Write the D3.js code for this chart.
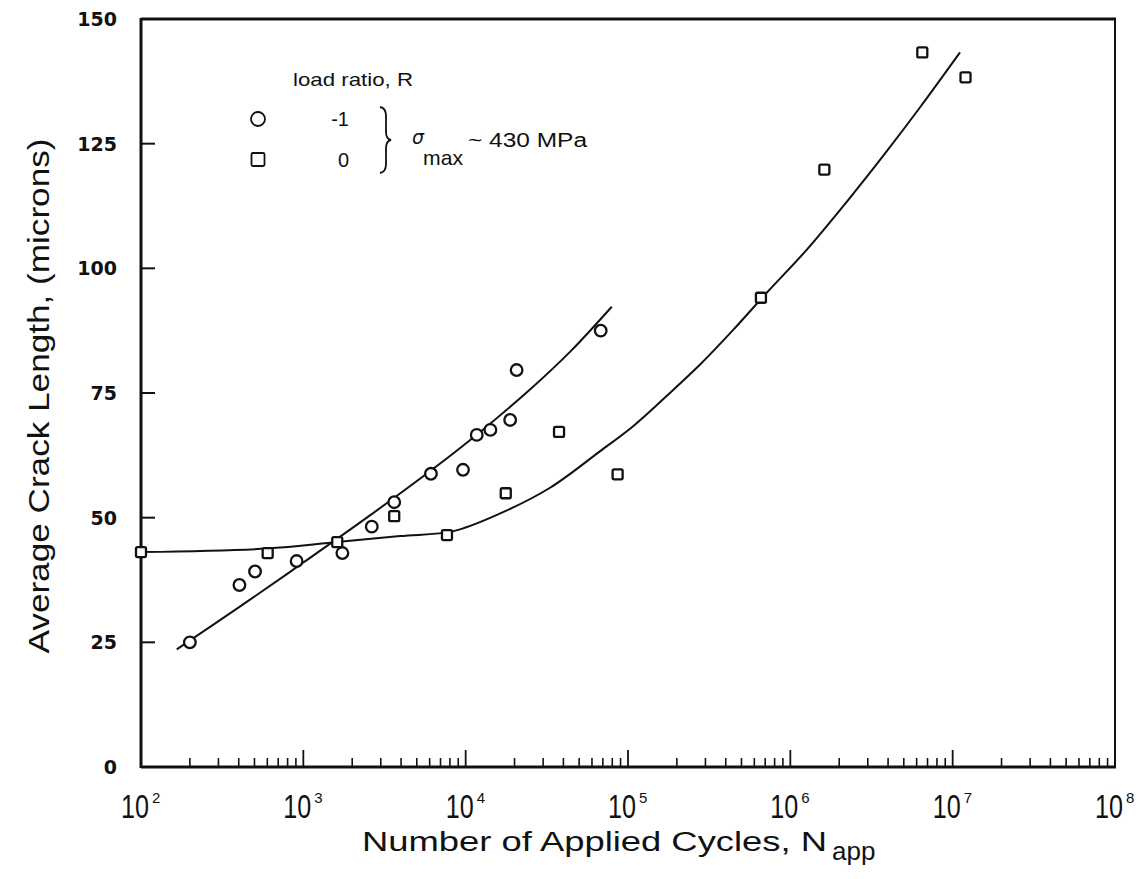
<!DOCTYPE html>
<html>
<head>
<meta charset="utf-8">
<script src="https://cdn.jsdelivr.net/npm/d3@7"></script>
<style>
  html, body { margin: 0; padding: 0; background: #fff; }
  svg { display: block; }
</style>
</head>
<body>
<svg id="chart" width="1147" height="879"></svg>
<script>
// ---------------- data ----------------
// R = -1 (circles)
const circleN = [200, 404, 504, 909, 1740, 2640, 3630, 6110, 9630, 11700, 14200, 18800, 20600, 67900];
const circleA = [25.0, 36.5, 39.2, 41.3, 42.9, 48.2, 53.1, 58.8, 59.6, 66.6, 67.6, 69.6, 79.6, 87.5];
// R = 0 (squares)
const squareN = [100, 603, 1618, 3630, 7670, 17660, 37600, 86300, 659000, 1620000, 6500000, 12000000];
const squareA = [43.1, 42.9, 45.1, 50.3, 46.5, 54.9, 67.2, 58.7, 94.1, 119.8, 143.3, 138.3];
// fitted trend curves
const fitCircleN = [166, 400, 1000, 2510, 6310, 12600, 25100, 44700, 79400];
const fitCircleA = [23.6, 32.0, 41.0, 50.2, 59.8, 67.5, 75.8, 83.5, 92.3];
const fitSquareN = [100, 595, 1610, 3950, 8400, 16200, 33100, 67100, 108000, 173000, 278000, 446000, 715000, 1260000, 2220000, 3930000, 6300000, 11100000];
const fitSquareA = [43.1, 43.8, 45.1, 46.3, 47.3, 50.8, 56.0, 63.3, 68.4, 74.4, 80.7, 87.7, 95.1, 103.7, 113.3, 123.5, 132.3, 143.3];
// axes
const xTickExponents = [2, 3, 4, 5, 6, 7, 8];
const yTicks = [0, 25, 50, 75, 100, 125, 150];
const legendLabels = ["-1", "0"];

// ---------------- layout ----------------
const L = 141, R = 1115, T = 19, B = 767;
const svg = d3.select("#chart");
const x = d3.scaleLog().domain([1e2, 1e8]).range([L, R]);
const y = d3.scaleLinear().domain([0, 150]).range([B, T]);

const ink = "#111";
const sans = "Liberation Sans, Arial, sans-serif";

// frame
svg.append("line").attr("x1", L).attr("x2", L).attr("y1", T - 1).attr("y2", B + 1)
  .attr("stroke", ink).attr("stroke-width", 3);
svg.append("line").attr("x1", L).attr("x2", R + 1).attr("y1", T).attr("y2", T)
  .attr("stroke", ink).attr("stroke-width", 3);
svg.append("line").attr("x1", R).attr("x2", R).attr("y1", T).attr("y2", B)
  .attr("stroke", ink).attr("stroke-width", 2);
svg.append("line").attr("x1", L).attr("x2", R + 1).attr("y1", B).attr("y2", B)
  .attr("stroke", ink).attr("stroke-width", 3);

// y ticks (inward)
svg.selectAll(".ytick").data(yTicks.filter(d => d > 0 && d < 150)).enter()
  .append("line")
  .attr("x1", L).attr("x2", L + 14)
  .attr("y1", d => y(d)).attr("y2", d => y(d))
  .attr("stroke", ink).attr("stroke-width", 2);

svg.selectAll(".ylab").data(yTicks).enter()
  .append("text")
  .attr("x", 117).attr("y", d => y(d) + 7)
  .attr("text-anchor", "end")
  .attr("font-family", "DejaVu Sans, sans-serif")
  .attr("font-weight", "bold")
  .attr("font-size", 19)
  .attr("fill", ink)
  .text(d => d);

// x minor/major ticks (inward from bottom)
const minor = [];
for (let e = 2; e < 8; e++) for (let m = 2; m <= 9; m++) minor.push(m * Math.pow(10, e));
svg.selectAll(".xminor").data(minor).enter().append("line")
  .attr("x1", d => x(d)).attr("x2", d => x(d))
  .attr("y1", B).attr("y2", B - 9)
  .attr("stroke", ink).attr("stroke-width", 1.6);
svg.selectAll(".xmajor").data(xTickExponents.filter(e => e > 2 && e < 8)).enter().append("line")
  .attr("x1", e => x(Math.pow(10, e))).attr("x2", e => x(Math.pow(10, e)))
  .attr("y1", B).attr("y2", B - 17)
  .attr("stroke", ink).attr("stroke-width", 1.8);

// x tick labels 10^n : condensed "10" plus superscript exponent
const xl = svg.selectAll(".xlab").data(xTickExponents).enter().append("g")
  .attr("transform", e => `translate(${x(Math.pow(10, e))},0)`);
xl.append("text")
  .attr("transform", "translate(-20,818) scale(0.74,1)")
  .attr("font-family", sans)
  .attr("font-size", 34)
  .attr("fill", ink)
  .text("10");
xl.append("text")
  .attr("x", 11)
  .attr("y", 803)
  .attr("font-family", sans)
  .attr("font-size", 15)
  .attr("fill", ink)
  .text(e => e);

// axis titles
const xt = svg.append("text")
  .attr("x", 362).attr("y", 851)
  .attr("font-family", sans)
  .attr("font-size", 27)
  .attr("fill", ink);
xt.append("tspan").attr("textLength", 465).attr("lengthAdjust", "spacingAndGlyphs")
  .text("Number of Applied Cycles, N");
xt.append("tspan").attr("x", 832).attr("y", 860).attr("font-size", 26).text("app");

svg.append("text")
  .attr("transform", "translate(49,396) rotate(-90)")
  .attr("text-anchor", "middle")
  .attr("font-family", sans)
  .attr("font-size", 30)
  .attr("textLength", 515).attr("lengthAdjust", "spacingAndGlyphs")
  .attr("fill", ink)
  .text("Average Crack Length, (microns)");

// fitted curves
const line = d3.line().x(d => x(d[0])).y(d => y(d[1])).curve(d3.curveCatmullRom.alpha(0.5));
svg.append("path")
  .attr("d", line(d3.zip(fitCircleN, fitCircleA)))
  .attr("fill", "none").attr("stroke", ink).attr("stroke-width", 2);
svg.append("path")
  .attr("d", line(d3.zip(fitSquareN, fitSquareA)))
  .attr("fill", "none").attr("stroke", ink).attr("stroke-width", 2);

// markers
svg.selectAll(".circ").data(d3.zip(circleN, circleA)).enter().append("circle")
  .attr("cx", d => x(d[0])).attr("cy", d => y(d[1])).attr("r", 5.8)
  .attr("fill", "#fff").attr("stroke", ink).attr("stroke-width", 2.3);
svg.selectAll(".sq").data(d3.zip(squareN, squareA)).enter().append("rect")
  .attr("x", d => x(d[0]) - 5).attr("y", d => y(d[1]) - 5)
  .attr("width", 10).attr("height", 10).attr("rx", 1.5)
  .attr("fill", "#fff").attr("stroke", ink).attr("stroke-width", 2.3);

// legend
svg.append("text").attr("x", 293).attr("y", 86)
  .attr("font-family", sans).attr("font-size", 19).attr("fill", ink)
  .attr("textLength", 120).attr("lengthAdjust", "spacingAndGlyphs")
  .text("load ratio, R");
svg.append("circle").attr("cx", 258).attr("cy", 119).attr("r", 7)
  .attr("fill", "#fff").attr("stroke", ink).attr("stroke-width", 1.8);
svg.append("rect").attr("x", 251.5).attr("y", 153).attr("width", 13).attr("height", 13).attr("rx", 1.5)
  .attr("fill", "#fff").attr("stroke", ink).attr("stroke-width", 1.8);
svg.selectAll(".leglab").data(legendLabels).enter().append("text")
  .attr("x", 349).attr("y", (d, i) => 126 + i * 41)
  .attr("text-anchor", "end")
  .attr("font-family", sans).attr("font-size", 20).attr("fill", ink)
  .text(d => d);
// brace
svg.append("path")
  .attr("d", "M380,107 Q386,108 386,116 L386,132 Q386,139 391,140 Q386,141 386,148 L386,164 Q386,172 380,173")
  .attr("fill", "none").attr("stroke", ink).attr("stroke-width", 1.8);
// sigma_max text
const st = svg.append("text").attr("x", 412).attr("y", 144)
  .attr("font-family", sans).attr("font-size", 19).attr("fill", ink);
st.append("tspan").attr("font-style", "italic").attr("font-family", "DejaVu Sans, sans-serif").attr("font-size", 19).text("σ");
st.append("tspan").attr("x", 423).attr("y", 165).attr("font-size", 21)
  .attr("textLength", 40).attr("lengthAdjust", "spacingAndGlyphs").text("max");
st.append("tspan").attr("x", 468).attr("y", 147).attr("font-size", 20)
  .attr("textLength", 119).attr("lengthAdjust", "spacingAndGlyphs").text("~ 430 MPa");
</script>
</body>
</html>
